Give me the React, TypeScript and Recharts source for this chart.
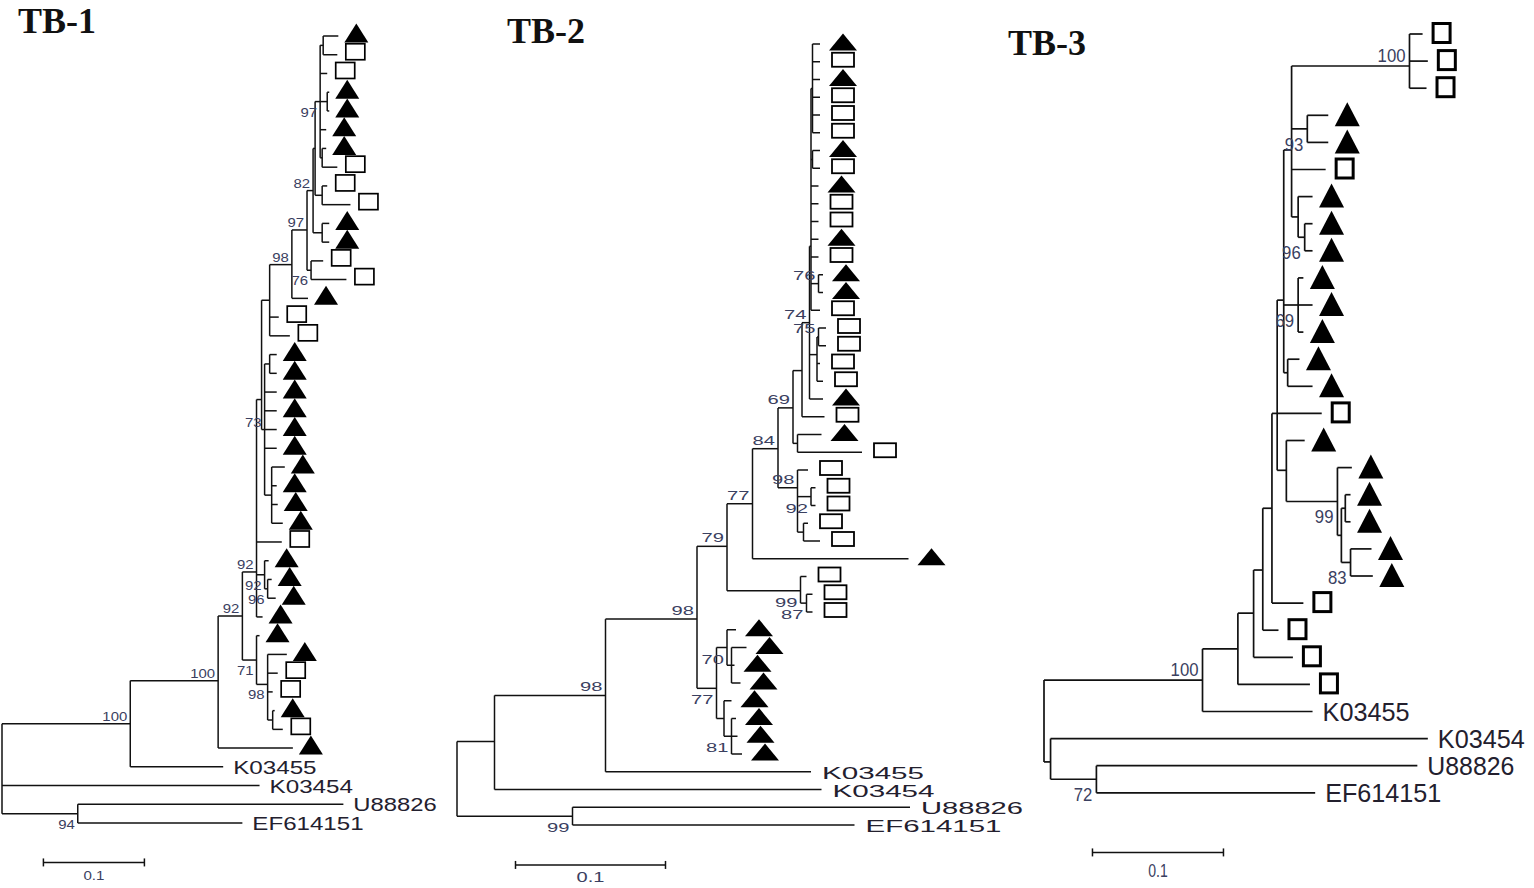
import { ScatterChart, Scatter, XAxis, YAxis, ReferenceLine } from 'recharts';

// node: [id, parent, depth (subst./site), row]; leaf: [parent, depth, marker or name], row = index
type TreeNode = [string, string, number, number];
type Leaf = [string, number, string];
type Support = [string, string, number]; // [node, value, 1 = label under the branch]

const tb1Nodes: TreeNode[] = [
  ['R', '', 0, 36.7],
  ['O', 'R', 0.075, 41.5],
  ['A', 'R', 0.127, 36.7],
  ['B', 'A', 0.214, 34.4],
  ['C', 'B', 0.238, 30.95],
  ['D', 'C', 0.252, 28.6],
  ['E', 'C', 0.252, 33.3],
  ['F', 'E', 0.263, 34.6],
  ['G', 'F', 0.268, 36.5],
  ['H', 'D', 0.26, 28.75],
  ['J', 'H', 0.263, 29.5],
  ['U1', 'D', 0.257, 19.4],
  ['P', 'U1', 0.265, 14.1],
  ['V', 'U1', 0.26, 21.0],
  ['V2', 'V', 0.265, 17.5],
  ['W', 'V', 0.267, 24.5],
  ['K', 'P', 0.287, 12.2],
  ['L', 'K', 0.302, 10.35],
  ['N', 'L', 0.306, 12.5],
  ['M', 'L', 0.308, 8.25],
  ['Y', 'M', 0.317, 10.5],
  ['X', 'M', 0.31, 6.0],
  ['Z2', 'X', 0.317, 8.5],
  ['Z1', 'X', 0.315, 3.5],
  ['Z0', 'Z1', 0.318, 0.5],
  ['Z3', 'Z1', 0.322, 3.5],
  ['Z4', 'Z1', 0.317, 6.5],
];

const tb1Leaves: Leaf[] = [
  ['Z0', 0.333, 't'], ['Z0', 0.332, 's'], ['Z1', 0.322, 's'], ['Z3', 0.324, 't'],
  ['Z3', 0.324, 't'], ['Z1', 0.321, 't'], ['Z4', 0.321, 't'], ['Z4', 0.332, 's'],
  ['Z2', 0.322, 's'], ['Z2', 0.345, 's'], ['Y', 0.324, 't'], ['Y', 0.324, 't'],
  ['N', 0.318, 's'], ['N', 0.341, 's'], ['K', 0.303, 't'], ['P', 0.274, 's'],
  ['P', 0.285, 's'], ['V2', 0.272, 't'], ['V2', 0.272, 't'], ['V', 0.272, 't'],
  ['V', 0.272, 't'], ['V', 0.272, 't'], ['V', 0.272, 't'], ['W', 0.28, 't'],
  ['W', 0.272, 't'], ['W', 0.273, 't'], ['W', 0.278, 't'], ['D', 0.277, 's'],
  ['H', 0.264, 't'], ['J', 0.267, 't'], ['J', 0.271, 't'], ['D', 0.258, 't'],
  ['E', 0.255, 't'], ['F', 0.282, 't'], ['F', 0.273, 's'], ['F', 0.268, 's'],
  ['G', 0.27, 't'], ['G', 0.278, 's'], ['B', 0.288, 't'],
  ['A', 0.219, 'K03455'], ['R', 0.255, 'K03454'], ['O', 0.338, 'U88826'], ['O', 0.238, 'EF614151'],
];

const tb1Support: Support[] = [
  ['Z1', '97', 1], ['M', '82', 0], ['L', '97', 0], ['K', '98', 0], ['N', '76', 1],
  ['V', '73', 0], ['D', '92', 0], ['H', '92', 1], ['J', '96', 1], ['C', '92', 0],
  ['E', '71', 1], ['F', '98', 1], ['B', '100', 0], ['A', '100', 0], ['O', '94', 1],
];

const tb2Nodes: TreeNode[] = [
  ['N0', '', 0, 41.4],
  ['N1', 'N0', 0.025, 39.3],
  ['N28', 'N0', 0.077, 43.5],
  ['N2', 'N1', 0.099, 36.7],
  ['N3', 'N2', 0.16, 32.4],
  ['N4', 'N3', 0.18, 28.3],
  ['N5', 'N3', 0.173, 36.3],
  ['N6', 'N4', 0.197, 25.9],
  ['N7', 'N4', 0.229, 30.8],
  ['N8', 'N6', 0.214, 22.8],
  ['N9', 'N8', 0.224, 20.5],
  ['N10', 'N8', 0.227, 25.0],
  ['N12', 'N9', 0.227, 22.5],
  ['N13', 'N9', 0.23, 18.4],
  ['N14', 'N13', 0.235, 15.7],
  ['N15', 'N14', 0.236, 11.4],
  ['N16', 'N14', 0.24, 17.5],
  ['N17', 'N15', 0.237, 2.5],
  ['N18', 'N15', 0.237, 6.5],
  ['N19', 'N15', 0.241, 13.5],
  ['N20', 'N16', 0.241, 16.5],
  ['N21', 'N10', 0.236, 25.5],
  ['N22', 'N10', 0.231, 27.5],
  ['N23', 'N7', 0.233, 31.5],
  ['N24', 'N5', 0.18, 34],
  ['N26', 'N24', 0.183, 35],
  ['N25', 'N5', 0.178, 38],
  ['N27', 'N25', 0.183, 39],
];

const tb2Leaves: Leaf[] = [
  ['N17', 0.242, 't'], ['N17', 0.242, 's'], ['N17', 0.242, 't'], ['N17', 0.242, 's'],
  ['N17', 0.242, 's'], ['N17', 0.242, 's'], ['N18', 0.242, 't'], ['N18', 0.242, 's'],
  ['N15', 0.241, 't'], ['N15', 0.241, 's'], ['N15', 0.241, 's'], ['N15', 0.241, 't'],
  ['N15', 0.241, 's'], ['N19', 0.244, 't'], ['N19', 0.244, 't'], ['N15', 0.242, 's'],
  ['N20', 0.246, 's'], ['N20', 0.246, 's'], ['N16', 0.242, 's'], ['N16', 0.244, 's'],
  ['N14', 0.244, 't'], ['N13', 0.245, 's'], ['N12', 0.243, 't'], ['N12', 0.27, 's'],
  ['N10', 0.234, 's'], ['N21', 0.239, 's'], ['N21', 0.239, 's'], ['N22', 0.234, 's'],
  ['N22', 0.242, 's'], ['N6', 0.301, 't'], ['N7', 0.233, 's'], ['N23', 0.237, 's'],
  ['N23', 0.237, 's'], ['N24', 0.186, 't'], ['N26', 0.193, 't'], ['N26', 0.185, 't'],
  ['N26', 0.189, 't'], ['N25', 0.183, 't'], ['N27', 0.186, 't'], ['N27', 0.187, 't'],
  ['N27', 0.19, 't'],
  ['N2', 0.236, 'K03455'], ['N1', 0.243, 'K03454'], ['N28', 0.302, 'U88826'], ['N28', 0.265, 'EF614151'],
];

const tb2Support: Support[] = [
  ['N28', '99', 1], ['N2', '98', 0], ['N3', '98', 0], ['N4', '79', 0], ['N6', '77', 0],
  ['N8', '84', 0], ['N9', '69', 0], ['N14', '74', 0], ['N19', '76', 0], ['N20', '75', 0],
  ['N10', '98', 0], ['N21', '92', 1], ['N7', '99', 1], ['N23', '87', 1],
  ['N24', '70', 1], ['N5', '77', 1], ['N27', '81', 1],
];

const tb3Nodes: TreeNode[] = [
  ['Rt', '', 0, 25.35],
  ['T13', 'Rt', 0.005, 26.86],
  ['T12', 'T13', 0.04, 27.5],
  ['T1', 'Rt', 0.121, 23.84],
  ['T2', 'T1', 0.148, 22.69],
  ['T3', 'T2', 0.16, 21.37],
  ['T4', 'T3', 0.167, 19.78],
  ['T5', 'T4', 0.174, 17.5],
  ['T6', 'T5', 0.178, 14],
  ['T7', 'T6', 0.185, 16.1],
  ['T8', 'T7', 0.224, 17.25],
  ['T11', 'T8', 0.227, 18.5],
  ['T9', 'T11', 0.23, 17.5],
  ['T10', 'T11', 0.234, 19.5],
  ['S3', 'T6', 0.183, 9.82],
  ['S1', 'S3', 0.189, 4.28],
  ['C100', 'S1', 0.279, 1.18],
  ['U1', 'S1', 0.201, 3.5],
  ['U2', 'S1', 0.194, 6.75],
  ['U3', 'U2', 0.199, 7.5],
  ['U4', 'S3', 0.194, 10],
  ['U5', 'S3', 0.186, 12.5],
];

const tb3Leaves: Leaf[] = [
  ['C100', 0.289, 's'], ['C100', 0.293, 's'], ['C100', 0.292, 's'], ['U1', 0.217, 't'],
  ['U1', 0.217, 't'], ['S1', 0.215, 's'], ['U2', 0.205, 't'], ['U3', 0.205, 't'],
  ['U3', 0.205, 't'], ['U4', 0.198, 't'], ['U4', 0.205, 't'], ['U4', 0.198, 't'],
  ['U5', 0.195, 't'], ['U5', 0.205, 't'], ['T6', 0.212, 's'], ['T7', 0.199, 't'],
  ['T8', 0.235, 't'], ['T9', 0.234, 't'], ['T9', 0.234, 't'], ['T10', 0.25, 't'],
  ['T10', 0.251, 't'], ['T5', 0.198, 's'], ['T4', 0.179, 's'], ['T3', 0.19, 's'],
  ['T2', 0.203, 's'],
  ['T1', 0.205, 'K03455'], ['T13', 0.293, 'K03454'], ['T12', 0.285, 'U88826'], ['T12', 0.207, 'EF614151'],
];

const tb3Support: Support[] = [
  ['C100', '100', 0], ['U1', '93', 1], ['U3', '96', 1], ['U4', '69', 1], ['T8', '99', 1],
  ['T10', '83', 1], ['T1', '100', 0], ['T12', '72', 1],
];

const scaleBarLength = 0.1;
const scaleBarText = '0.1';

const H = 888;
const INK = '#111';
const SUP_COLOR = '#3a4060';
const NAME_COLOR = '#23202e';

const tb1Cfg = {
  left: 0, width: 460, rootPx: 2, pxPerUnit: 1010, rowTop: 36, rowStep: 18.74, stroke: 1.5,
  tri: [24, 19], sq: [19, 16], sqStroke: 1.7, markerDx: 18, markerDy: -3,
  nameFont: 'Liberation Sans, Arial, sans-serif', nameSize: 19, nameCharW: 13.9, nameDx: 10, nameDy: 7,
  supSize: 13, supCharW: 8.3, supDx: -3, supAbove: -3, supBelow: 15,
  barStart: 0.041, barRow: 44.1, barFont: 12, barCharW: 7, barTextDy: 18,
};

const tb2Cfg = {
  left: 450, width: 600, rootPx: 7, pxPerUnit: 1500, rowTop: 44, rowStep: 17.75, stroke: 1.5,
  tri: [28, 17], sq: [22, 14], sqStroke: 1.8, markerDx: 23, markerDy: -2,
  nameFont: 'Liberation Sans, Arial, sans-serif', nameSize: 17, nameCharW: 17, nameDx: 11, nameDy: 7,
  supSize: 13.5, supCharW: 11.2, supDx: -3, supAbove: -4, supBelow: 16,
  barStart: 0.039, barRow: 46.25, barFont: 14, barCharW: 9.3, barTextDy: 17,
};

const tb3Cfg = {
  left: 1030, width: 504, rootPx: 14, pxPerUnit: 1310, rowTop: 34, rowStep: 27.1, stroke: 1.7,
  tri: [25, 24], sq: [17, 19], sqStroke: 3, markerDx: 19, markerDy: -1,
  nameFont: 'Liberation Sans, Arial, sans-serif', nameSize: 25, nameCharW: 14.5, nameDx: 10, nameDy: 9,
  supSize: 19, supCharW: 9.3, supDx: -4, supAbove: -4, supBelow: 22,
  barStart: 0.037, barRow: 30.2, barFont: 19, barCharW: 6.5, barTextDy: 25,
};

type Cfg = typeof tb1Cfg;

function layoutTree(nodes: TreeNode[], leaves: Leaf[]) {
  const pos = new Map<string, { x: number; y: number }>();
  nodes.forEach(([id, , depth, row]) => pos.set(id, { x: depth, y: row }));
  const kids = new Map<string, number[]>();
  const addKid = (p: string, y: number) => kids.set(p, [...(kids.get(p) || []), y]);
  const hs: { y: number; x1: number; x2: number }[] = [];
  nodes.forEach(([, parent, depth, row]) => {
    if (!parent) return;
    hs.push({ y: row, x1: pos.get(parent)!.x, x2: depth });
    addKid(parent, row);
  });
  leaves.forEach(([parent, depth], i) => {
    hs.push({ y: i, x1: pos.get(parent)!.x, x2: depth });
    addKid(parent, i);
  });
  const vs = nodes.map(([id, , depth, row]) => {
    const ys = [row, ...(kids.get(id) || [])];
    return { x: depth, y1: Math.min(...ys), y2: Math.max(...ys) };
  });
  return { hs, vs, pos };
}

function TreePanel({ nodes, leaves, support, cfg }: { nodes: TreeNode[]; leaves: Leaf[]; support: Support[]; cfg: Cfg }) {
  const { hs, vs, pos } = layoutTree(nodes, leaves);
  const xMin = -cfg.rootPx / cfg.pxPerUnit;
  const xMax = (cfg.width - cfg.rootPx) / cfg.pxPerUnit;
  const yMin = -cfg.rowTop / cfg.rowStep;
  const yMax = (H - cfg.rowTop) / cfg.rowStep;

  const all = leaves.map(([, depth, m], i) => ({ x: depth, y: i, m }));
  const markers = all.filter((d) => d.m === 't' || d.m === 's');
  const names = all.filter((d) => d.m !== 't' && d.m !== 's');
  const labels = support.map(([id, text, below]) => ({ ...pos.get(id)!, text, below }));
  const barEnd = cfg.barStart + scaleBarLength;
  const tickHalf = 4 / cfg.rowStep;
  const barLabel = [{ x: cfg.barStart + scaleBarLength / 2, y: cfg.barRow, text: scaleBarText }];

  const marker = (p: any) => {
    const x = p.cx + cfg.markerDx;
    const y = p.cy + cfg.markerDy;
    if (p.payload.m === 't') {
      const [w, h] = cfg.tri;
      return <polygon points={`${x - w / 2},${y + h / 2} ${x + w / 2},${y + h / 2} ${x},${y - h / 2}`} fill="#000" />;
    }
    const [w, h] = cfg.sq;
    return <rect x={x - w / 2} y={y - h / 2} width={w} height={h} fill="#fff" stroke="#000" strokeWidth={cfg.sqStroke} />;
  };
  const nameText = (p: any) => (
    <text x={p.cx + cfg.nameDx} y={p.cy + cfg.nameDy} fontFamily={cfg.nameFont} fontSize={cfg.nameSize} fill={NAME_COLOR}
      textLength={p.payload.m.length * cfg.nameCharW} lengthAdjust="spacingAndGlyphs">
      {p.payload.m}
    </text>
  );
  const supText = (p: any) => (
    <text x={p.cx + cfg.supDx} y={p.cy + (p.payload.below ? cfg.supBelow : cfg.supAbove)} textAnchor="end"
      fontFamily="Liberation Sans, Arial, sans-serif" fontSize={cfg.supSize} fill={SUP_COLOR}
      textLength={p.payload.text.length * cfg.supCharW} lengthAdjust="spacingAndGlyphs">
      {p.payload.text}
    </text>
  );
  const barText = (p: any) => (
    <text x={p.cx} y={p.cy + cfg.barTextDy} textAnchor="middle" fontFamily="Liberation Sans, Arial, sans-serif"
      fontSize={cfg.barFont} fill={SUP_COLOR} textLength={3 * cfg.barCharW} lengthAdjust="spacingAndGlyphs">
      {p.payload.text}
    </text>
  );

  return (
    <div style={{ position: 'absolute', left: cfg.left, top: 0 }}>
      <ScatterChart width={cfg.width} height={H} margin={{ top: 0, right: 0, bottom: 0, left: 0 }}>
        <XAxis type="number" dataKey="x" domain={[xMin, xMax]} hide allowDataOverflow />
        <YAxis type="number" dataKey="y" domain={[yMin, yMax]} reversed hide allowDataOverflow />
        {hs.map((s, i) => (
          <ReferenceLine key={'h' + i} segment={[{ x: s.x1, y: s.y }, { x: s.x2, y: s.y }]} stroke={INK}
            strokeWidth={cfg.stroke} ifOverflow="visible" />
        ))}
        {vs.map((s, i) => (
          <ReferenceLine key={'v' + i} segment={[{ x: s.x, y: s.y1 }, { x: s.x, y: s.y2 }]} stroke={INK}
            strokeWidth={cfg.stroke} ifOverflow="visible" />
        ))}
        <ReferenceLine segment={[{ x: cfg.barStart, y: cfg.barRow }, { x: barEnd, y: cfg.barRow }]} stroke={INK} strokeWidth={1.5} ifOverflow="visible" />
        <ReferenceLine segment={[{ x: cfg.barStart, y: cfg.barRow - tickHalf }, { x: cfg.barStart, y: cfg.barRow + tickHalf }]} stroke={INK} strokeWidth={1.5} ifOverflow="visible" />
        <ReferenceLine segment={[{ x: barEnd, y: cfg.barRow - tickHalf }, { x: barEnd, y: cfg.barRow + tickHalf }]} stroke={INK} strokeWidth={1.5} ifOverflow="visible" />
        <Scatter data={markers} shape={marker} isAnimationActive={false} />
        <Scatter data={names} shape={nameText} isAnimationActive={false} />
        <Scatter data={labels} shape={supText} isAnimationActive={false} />
        <Scatter data={barLabel} shape={barText} isAnimationActive={false} />
      </ScatterChart>
    </div>
  );
}

const titles = [
  { text: 'TB-1', left: 18, top: 3 },
  { text: 'TB-2', left: 507, top: 13 },
  { text: 'TB-3', left: 1008, top: 25 },
];

export default function App() {
  return (
    <div style={{ position: 'absolute', left: 0, top: 0, width: 1534, height: H, background: '#fff', overflow: 'hidden' }}>
      <TreePanel nodes={tb1Nodes} leaves={tb1Leaves} support={tb1Support} cfg={tb1Cfg} />
      <TreePanel nodes={tb2Nodes} leaves={tb2Leaves} support={tb2Support} cfg={tb2Cfg} />
      <TreePanel nodes={tb3Nodes} leaves={tb3Leaves} support={tb3Support} cfg={tb3Cfg} />
      {titles.map((t) => (
        <div key={t.text} style={{
          position: 'absolute', left: t.left, top: t.top, fontFamily: 'Liberation Serif, Times New Roman, serif',
          fontWeight: 'bold', fontSize: 36, lineHeight: '36px', color: '#111',
        }}>
          {t.text}
        </div>
      ))}
    </div>
  );
}
